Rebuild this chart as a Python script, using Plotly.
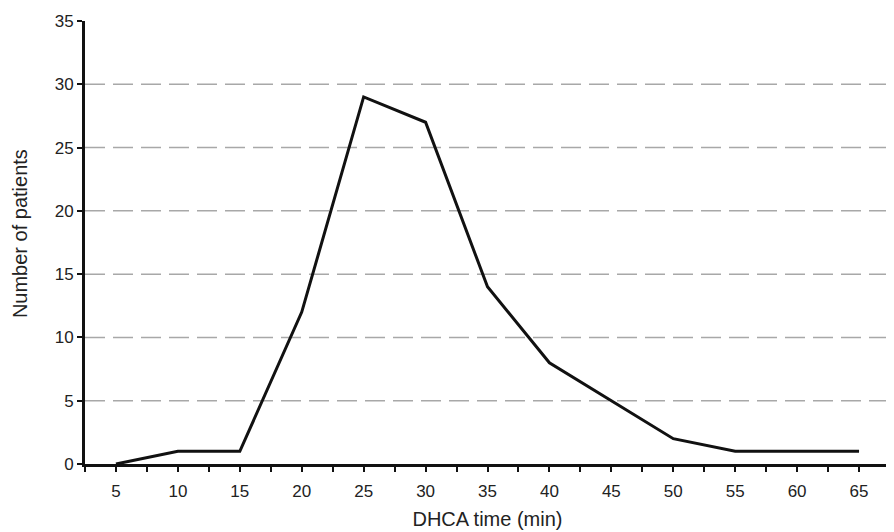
import plotly.graph_objects as go

dhca_time = [5, 10, 15, 20, 25, 30, 35, 40, 45, 50, 55, 60, 65]
patients = [0, 1, 1, 12, 29, 27, 14, 8, 5, 2, 1, 1, 1]
y_ticks = [0, 5, 10, 15, 20, 25, 30, 35]

# tick marks at each category and at boundaries between categories
tickvals = []
ticktext = []
for i, t in enumerate(dhca_time):
    if i == 0:
        tickvals.append(t - 2.5)
        ticktext.append("")
    tickvals.append(t)
    ticktext.append(str(t))
    tickvals.append(t + 2.5)
    ticktext.append("")

fig = go.Figure()
fig.add_trace(go.Scatter(
    x=dhca_time, y=patients, mode="lines",
    line=dict(color="#111111", width=3),
    showlegend=False,
))

grid_lines = [v for v in y_ticks if 0 < v < 35]
for v in grid_lines:
    fig.add_shape(type="line", xref="paper", yref="y", x0=0, x1=1, y0=v, y1=v,
                  line=dict(color="#a8a8a8", width=1.5, dash="20px,8px"), layer="below")

fig.add_annotation(
    text="Number of patients", xref="paper", yref="paper",
    x=-0.0807, y=0.519, xanchor="center", yanchor="middle",
    textangle=-90, showarrow=False, font=dict(size=20, color="#222222"),
)

fig.update_layout(
    width=886, height=524,
    margin=dict(l=77, r=4, t=13, b=68),
    paper_bgcolor="white", plot_bgcolor="white",
    font=dict(family="Liberation Sans, Arial, sans-serif", size=17, color="#222222"),
    xaxis=dict(
        range=[2.5, 67.5], tickmode="array", tickvals=tickvals, ticktext=ticktext,
        showgrid=False, zeroline=False, showline=True, linecolor="#111111", linewidth=3,
        ticks="outside", ticklen=5, tickwidth=2, tickcolor="#111111",
        tickfont=dict(size=17),
        ticklabelstandoff=5,
        title=dict(text="DHCA time (min)", font=dict(size=20), standoff=12),
    ),
    yaxis=dict(
        range=[0, 35], tickmode="array", tickvals=y_ticks,
        showgrid=False, zeroline=False, showline=True, linecolor="#111111", linewidth=3,
        ticks="outside", ticklen=5, tickwidth=2, tickcolor="#111111",
        tickfont=dict(size=17),
    ),
)

fig.write_html("out.html")
